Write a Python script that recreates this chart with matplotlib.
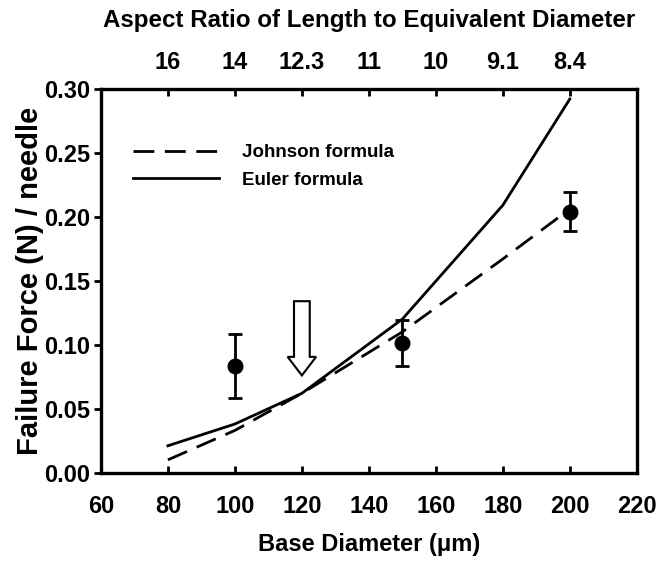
from matplotlib import pyplot as plt
from matplotlib.patches import FancyArrow

# measured failure force per needle
diameter = [100, 150, 200]
force = [0.083, 0.101, 0.204]
force_err = [0.025, 0.018, 0.015]

# model curves
model_diameter = [80, 100, 120, 150, 180, 200]
johnson = [0.010, 0.033, 0.062, 0.110, 0.167, 0.206]
euler = [0.021, 0.038, 0.062, 0.120, 0.209, 0.292]

# top axis: aspect ratio at each base diameter
ratio_pos = [80, 100, 120, 140, 160, 180, 200]
ratio_labels = ["16", "14", "12.3", "11", "10", "9.1", "8.4"]

plt.rcParams['font.family'] = ['Liberation Sans', 'DejaVu Sans']
plt.rcParams['font.weight'] = 'bold'

fig = plt.figure(figsize=(6.64, 5.62), dpi=100)
ax = fig.add_axes([0.152, 0.159, 0.807, 0.683])

ax.plot(model_diameter, johnson, color='black', lw=2, dashes=(7.5, 3.8), label='Johnson formula')
ax.plot(model_diameter, euler, color='black', lw=2, label='Euler formula')
ax.errorbar(diameter, force, yerr=force_err, fmt='o', color='black', ms=10.5,
            capsize=5, elinewidth=2, capthick=2)

# hollow arrow marking 120 um
ax.add_patch(FancyArrow(120, 0.134, 0, -0.058, width=4.7, head_width=8.5,
                        head_length=0.0145, length_includes_head=True,
                        fc='white', ec='black', lw=1.5, zorder=5))

ax.set_xlim(60, 220)
ax.set_ylim(0, 0.30)
ax.set_xticks(range(60, 221, 20))
ax.set_yticks([0, 0.05, 0.10, 0.15, 0.20, 0.25, 0.30])
ax.set_yticklabels([f"{v:.2f}" for v in ax.get_yticks()])
ax.tick_params(axis='x', direction='in', length=5, width=2, labelsize=17, pad=16)
ax.tick_params(axis='y', direction='out', length=5, width=2, labelsize=17, pad=3)
for s in ax.spines.values():
    s.set_linewidth(2.4)

ax.set_xlabel("Base Diameter (\u03bcm)", fontsize=17, fontweight='bold', labelpad=11)
ax.set_ylabel("Failure Force (N) / needle", fontsize=21, fontweight='bold', labelpad=0)

top = ax.secondary_xaxis('top')
top.set_xticks(ratio_pos)
top.set_xticklabels(ratio_labels)
top.tick_params(direction='in', length=5, width=2, labelsize=17, pad=11)
top.set_xlabel("Aspect Ratio of Length to Equivalent Diameter", fontsize=17.4,
               fontweight='bold', labelpad=17)

ax.legend(loc='upper left', bbox_to_anchor=(0.046, 0.875), borderaxespad=0,
          frameon=False, fontsize=13.5, handlelength=4.6, handletextpad=1.2,
          labelspacing=0.55)

fig.savefig("out.png", dpi=100)
